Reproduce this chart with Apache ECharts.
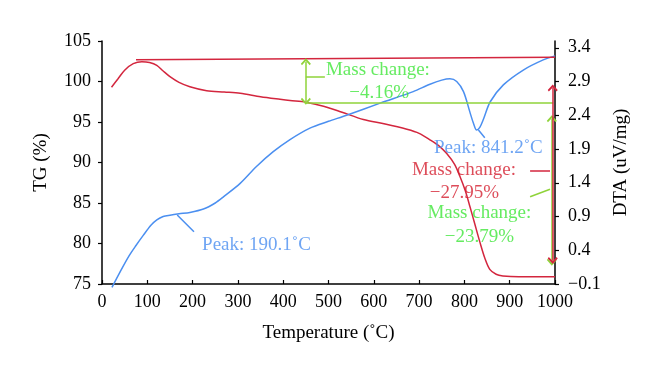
<!DOCTYPE html>
<html>
<head>
<meta charset="utf-8">
<script src="https://cdn.jsdelivr.net/npm/echarts@6/dist/echarts.min.js"></script>
<style>html,body{margin:0;padding:0;background:#fff}#c{width:660px;height:377px}</style>
</head>
<body>
<div id="c"></div>
<script>
// ---- data ----
const tgTemp = [21, 35, 50, 69, 88, 105, 121, 135, 150, 170, 194, 231, 270, 305, 350, 393, 415, 450, 489, 530, 577, 625, 673, 700, 724, 745, 761, 778, 790, 802, 812, 823, 834, 845, 856, 870, 885, 920, 1000];
const tgValues = [99.3, 100.3, 101.4, 102.2, 102.45, 102.35, 102.0, 101.3, 100.6, 99.9, 99.36, 98.87, 98.7, 98.54, 98.12, 97.8, 97.65, 97.45, 96.95, 96.2, 95.3, 94.75, 94.1, 93.6, 92.8, 92.0, 91.1, 89.8, 88.3, 86.5, 84.6, 82.4, 80.2, 78.2, 76.8, 76.2, 76.0, 75.9, 75.9];
const dtaTemp = [22, 40, 60, 75, 91, 108, 121, 135, 150, 170, 194, 224, 250, 268, 305, 341, 378, 415, 459, 500, 540, 614, 687, 724, 750, 768, 783, 798, 812, 820, 827, 834, 842, 857, 886, 930, 974, 1000];
const dtaValues = [-0.15, 0.08, 0.32, 0.47, 0.62, 0.77, 0.85, 0.90, 0.92, 0.94, 0.96, 1.01, 1.10, 1.19, 1.39, 1.64, 1.86, 2.04, 2.21, 2.31, 2.40, 2.58, 2.75, 2.86, 2.92, 2.94, 2.90, 2.75, 2.45, 2.28, 2.18, 2.22, 2.34, 2.60, 2.85, 3.07, 3.22, 3.28];
const tgTicks = [75, 80, 85, 90, 95, 100, 105];
const dtaTicks = [-0.1, 0.4, 0.9, 1.4, 1.9, 2.4, 2.9, 3.4];
const tempTicks = [0, 100, 200, 300, 400, 500, 600, 700, 800, 900, 1000];

// annotation segments in (temperature, TG) coordinates: [x1, y1, x2, y2, colour, arrowStart, arrowEnd]
const annotSegments = [
  [75, 102.7, 1000, 103.0, 'red', false, false],
  [448, 97.43, 996, 97.43, 'green', false, false],
  [993, 95.4, 993, 77.7, 'green', true, true],
  [995, 99.2, 995, 77.9, 'red', true, true],
  [450, 102.45, 450, 97.55, 'green', true, true],
  [450, 100.6, 492, 100.6, 'green', false, false],
  [945, 89.0, 989, 89.0, 'red', false, false],
  [945, 85.78, 989, 86.69, 'green', false, false],
  [831, 94.0, 845, 93.06, 'blue', false, false],
  [166, 83.52, 203, 81.46, 'blue', false, false]
];
// annotation texts in (temperature, TG) coordinates
const annotTexts = [
  ['Mass change:', 609, 101.42, 'greenText'],
  ['\u22124.16%', 612, 98.58, 'greenText'],
  ['Peak: 841.2\u02DAC', 853, 91.79, 'blue'],
  ['Mass change:', 799, 89.07, 'redText'],
  ['\u221227.95%', 800, 86.23, 'redText'],
  ['Mass change:', 833, 83.77, 'greenText'],
  ['\u221223.79%', 833, 80.8, 'greenText'],
  ['Peak: 190.1\u02DAC', 341, 79.81, 'blue']
];

const COLORS = {
  red: '#d3263e',
  redText: '#d41f2f',
  blue: '#4b8ff0',
  green: '#8fd33a',
  greenText: '#3ee63a'
};
const FONT = 'Liberation Serif';
const chevron = 'path://M5,0 L10,5.6 L8.9,7 L5,2.9 L1.1,7 L0,5.6 Z';

const chart = echarts.init(document.getElementById('c'), null, {renderer: 'canvas'});

const markLineData = annotSegments.map(s => {
  const col = COLORS[s[4]];
  return [
    {coord: [s[0], s[1]], symbol: s[5] ? chevron : 'none', symbolSize: [10, 7], lineStyle: {color: col, width: 1.5, type: 'solid'}, itemStyle: {color: col}},
    {coord: [s[2], s[3]], symbol: s[6] ? chevron : 'none', symbolSize: [10, 7], itemStyle: {color: col}}
  ];
});

const textData = annotTexts.map(t => ({
  value: [t[1], t[2]],
  name: t[0],
  label: {color: COLORS[t[3]]}
}));

const axisLineStyle = {color: '#000', width: 1.5};
const labelStyle = {color: '#000', fontFamily: FONT, fontSize: 18};
const nameStyle = {color: '#000', fontFamily: FONT, fontSize: 19};

const option = {
  animation: false,
  backgroundColor: '#fff',
  grid: {left: 102, right: 105, top: 41, bottom: 93, containLabel: false},
  xAxis: {
    type: 'value', min: 0, max: 1000, interval: 100,
    name: 'Temperature (\u02DAC)', nameLocation: 'middle', nameGap: 40,
    nameTextStyle: nameStyle,
    axisLine: {show: true, onZero: false, lineStyle: axisLineStyle},
    axisTick: {show: true, inside: true, length: 4, lineStyle: {color: '#000', width: 1.2}, customValues: tempTicks},
    axisLabel: Object.assign({margin: 9, customValues: tempTicks, formatter: v => String(v)}, labelStyle),
    splitLine: {show: false}
  },
  yAxis: [
    {
      type: 'value', min: 75, max: 105, interval: 5, position: 'left',
      name: 'TG (%)', nameLocation: 'middle', nameGap: 51, nameRotate: 90,
      nameTextStyle: nameStyle,
      axisLine: {show: true, onZero: false, lineStyle: axisLineStyle},
      axisTick: {show: true, length: 4, lineStyle: {color: '#000', width: 1.2}, customValues: tgTicks},
      axisLabel: Object.assign({margin: 11, customValues: tgTicks, formatter: v => String(v)}, labelStyle),
      splitLine: {show: false}
    },
    {
      type: 'value', min: -0.1, max: 3.5, position: 'right',
      name: 'DTA (uV/mg)', nameLocation: 'middle', nameGap: 54, nameRotate: 90,
      nameTextStyle: nameStyle,
      axisLine: {show: true, onZero: false, lineStyle: axisLineStyle},
      axisTick: {show: true, length: 4, lineStyle: {color: '#000', width: 1.2}, customValues: dtaTicks},
      axisLabel: Object.assign({
        margin: 13, customValues: dtaTicks,
        formatter: v => (Math.round(v * 10) / 10).toFixed(1).replace('-', '\u2212')
      }, labelStyle),
      splitLine: {show: false}
    }
  ],
  series: [
    {
      name: 'TG', type: 'line', yAxisIndex: 0,
      data: tgTemp.map((t, i) => [t, tgValues[i]]),
      showSymbol: false, smooth: 0.3, clip: false,
      lineStyle: {color: COLORS.red, width: 1.5},
      itemStyle: {color: COLORS.red}
    },
    {
      name: 'DTA', type: 'line', yAxisIndex: 1,
      data: dtaTemp.map((t, i) => [t, dtaValues[i]]),
      showSymbol: false, smooth: 0.3, clip: false,
      lineStyle: {color: COLORS.blue, width: 1.5},
      itemStyle: {color: COLORS.blue}
    },
    {
      name: 'annot', type: 'scatter', yAxisIndex: 0, silent: true,
      symbolSize: 0,
      data: textData,
      label: {
        show: true, position: 'inside', formatter: p => p.name,
        fontFamily: FONT, fontSize: 19
      },
      markLine: {
        silent: true, animation: false,
        label: {show: false},
        emphasis: {disabled: true},
        data: markLineData
      },
      z: 5
    }
  ]
};
chart.setOption(option);
</script>
</body>
</html>
